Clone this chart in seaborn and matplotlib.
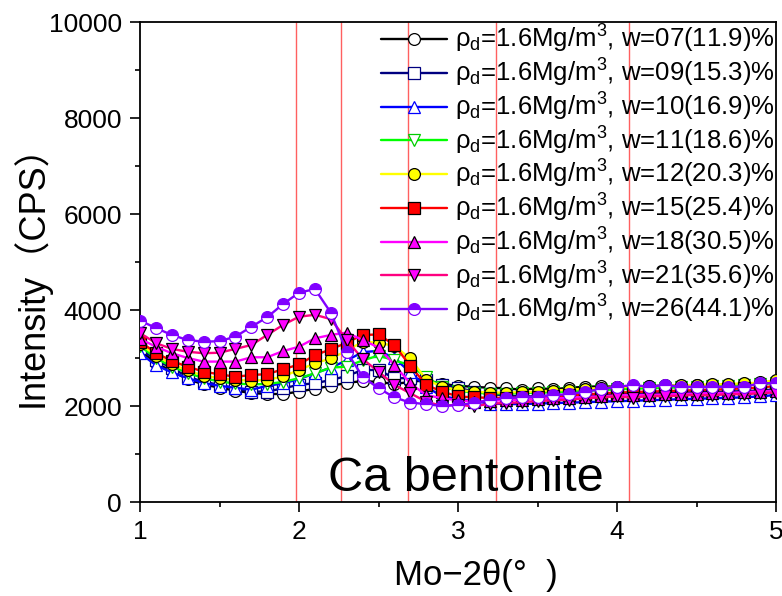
import numpy as np
import pandas as pd
import seaborn as sns
import matplotlib
matplotlib.use("Agg")
import matplotlib.pyplot as plt
from matplotlib import font_manager
from matplotlib.ticker import AutoMinorLocator

# ---------------- data ----------------
two_theta = [round(1.0 + 0.1 * i, 1) for i in range(41)]

w07 = [3150, 2900, 2720, 2560, 2450, 2380, 2320, 2270, 2250, 2250,
       2300, 2360, 2420, 2480, 2520, 2500, 2460, 2500, 2540, 2460,
       2420, 2400, 2380, 2370, 2340, 2370, 2350, 2380, 2400, 2410,
       2400, 2420, 2410, 2430, 2420, 2430, 2440, 2440, 2450, 2470, 2500]
w09 = [3200, 2960, 2790, 2610, 2505, 2440, 2370, 2300, 2300, 2370,
       2440, 2475, 2540, 2625, 2750, 2750, 2580, 2580, 2540, 2440,
       2380, 2300, 2250, 2220, 2200, 2200, 2210, 2220, 2230, 2240,
       2250, 2260, 2260, 2270, 2280, 2290, 2290, 2300, 2310, 2320, 2350]
w10 = [3100, 2850, 2700, 2580, 2480, 2420, 2380, 2340, 2420, 2470,
       2560, 2680, 2800, 2950, 3120, 3150, 3000, 2700, 2400, 2200,
       2150, 2100, 2050, 2040, 2040, 2050, 2060, 2070, 2080, 2090,
       2100, 2110, 2120, 2130, 2140, 2150, 2160, 2170, 2180, 2200, 2230]
w11 = [3250, 3000, 2820, 2690, 2580, 2510, 2470, 2450, 2460, 2500,
       2580, 2680, 2800, 2820, 2950, 3050, 2950, 2850, 2600, 2400,
       2320, 2280, 2260, 2260, 2270, 2280, 2290, 2300, 2320, 2330,
       2350, 2360, 2370, 2380, 2390, 2400, 2410, 2420, 2430, 2450, 2480]
w12 = [3300, 3050, 2870, 2740, 2630, 2580, 2540, 2530, 2540, 2620,
       2750, 2890, 2990, 3150, 3340, 3320, 3250, 2990, 2550, 2400,
       2330, 2300, 2280, 2280, 2290, 2300, 2320, 2340, 2360, 2370,
       2390, 2400, 2410, 2420, 2430, 2440, 2450, 2460, 2470, 2490, 2540]
w15 = [3340, 3110, 2935, 2820, 2715, 2660, 2610, 2645, 2665, 2765,
       2865, 3060, 3180, 3320, 3480, 3490, 3270, 2835, 2440, 2300,
       2200, 2180, 2170, 2170, 2180, 2190, 2200, 2220, 2240, 2260,
       2280, 2290, 2300, 2310, 2320, 2330, 2340, 2350, 2370, 2380, 2420]
w18 = [3400, 3235, 3100, 3000, 2925, 2925, 2925, 3015, 3015, 3145,
       3235, 3410, 3480, 3530, 3375, 3220, 2855, 2470, 2230, 2160,
       2120, 2090, 2110, 2120, 2130, 2150, 2160, 2170, 2190, 2200,
       2220, 2230, 2230, 2240, 2250, 2260, 2270, 2270, 2290, 2300, 2320]
w21 = [3520, 3310, 3190, 3130, 3100, 3110, 3190, 3270, 3480, 3690,
       3860, 3900, 3810, 3375, 2980, 2715, 2440, 2265, 2090, 2000,
       2030, 1990, 2050, 2060, 2080, 2100, 2120, 2130, 2160, 2180,
       2200, 2170, 2210, 2200, 2220, 2230, 2220, 2250, 2240, 2270, 2280]
w26 = [3780, 3625, 3480, 3375, 3340, 3350, 3445, 3650, 3850, 4125,
       4360, 4437, 3945, 3130, 2610, 2370, 2180, 2070, 2040, 2000,
       2020, 2060, 2125, 2165, 2180, 2195, 2230, 2245, 2300, 2350,
       2400, 2435, 2400, 2435, 2400, 2400, 2400, 2400, 2400, 2475, 2475]

series_values = [w07, w09, w10, w11, w12, w15, w18, w21, w26]
labels_w = ["07(11.9)", "09(15.3)", "10(16.9)", "11(18.6)", "12(20.3)",
            "15(25.4)", "18(30.5)", "21(35.6)", "26(44.1)"]
ref_lines = [1.98, 2.266, 2.685, 3.236, 4.073]

x_ticks = [1, 2, 3, 4, 5]
y_ticks = [0, 2000, 4000, 6000, 8000, 10000]

# ---------------- styles ----------------
styles = [
    dict(color="#000000", marker="o", markerfacecolor="white", markeredgecolor="black"),
    dict(color="#000080", marker="s", markerfacecolor="white", markeredgecolor="#000080"),
    dict(color="#0000FF", marker="^", markerfacecolor="white", markeredgecolor="#0000FF"),
    dict(color="#00FF00", marker="v", markerfacecolor="white", markeredgecolor="#00CC00"),
    dict(color="#FFFF00", marker="o", markerfacecolor="#FFFF00", markeredgecolor="black"),
    dict(color="#FF0000", marker="s", markerfacecolor="#FF0000", markeredgecolor="black"),
    dict(color="#FF00FF", marker="^", markerfacecolor="#FF00FF", markeredgecolor="black"),
    dict(color="#FF0080", marker="v", markerfacecolor="#FF00FF", markeredgecolor="black"),
    dict(color="#8000FF", marker="o", markerfacecolor="#8000FF", markeredgecolor="#8000FF",
         fillstyle="top", markerfacecoloralt="white"),
]

sns.set_style("ticks")


def has_font(name):
    try:
        font_manager.findfont(font_manager.FontProperties(family=name), fallback_to_default=False)
        return True
    except Exception:
        return False


narrow_ok = has_font("Liberation Sans Narrow")
narrow = "Liberation Sans Narrow" if narrow_ok else "Liberation Sans"
tick_fs = 22 if narrow_ok else 19
leg_fs = 19 if narrow_ok else 18.5

plt.rcParams["font.family"] = [narrow, "DejaVu Sans"]
plt.rcParams["mathtext.fontset"] = "custom"
plt.rcParams["mathtext.rm"] = narrow
plt.rcParams["mathtext.it"] = narrow
plt.rcParams["xtick.direction"] = "out"
plt.rcParams["ytick.direction"] = "out"
for k in ["text.color", "axes.labelcolor", "xtick.color", "ytick.color",
          "xtick.labelcolor", "ytick.labelcolor", "axes.edgecolor"]:
    plt.rcParams[k] = "black"

fig = plt.figure(figsize=(7.82, 5.96), dpi=100)
ax = fig.add_axes([140 / 782, 1 - 502 / 596, 636 / 782, 480 / 596])

for xv in ref_lines:
    ax.axvline(xv, color="#FF6060", lw=1.0, zorder=1)

for vals, lab, st in zip(series_values, labels_w, styles):
    df = pd.DataFrame({"x": two_theta, "y": vals})
    sns.lineplot(data=df, x="x", y="y", ax=ax, lw=1.7, markersize=8.5,
                 markeredgewidth=0.9, zorder=3, clip_on=True,
                 label="ρ$_\\mathregular{d}$=1.6Mg/m$^\\mathregular{3}$, w=" + lab + "%",
                 **st)

ax.set_xlim(1, 5)
ax.set_ylim(0, 10000)
ax.set_xticks(x_ticks)
ax.set_yticks(y_ticks)
ax.xaxis.set_minor_locator(AutoMinorLocator(2))
ax.yaxis.set_minor_locator(AutoMinorLocator(2))
ax.tick_params(which="major", length=7, width=1.2, labelsize=tick_fs, pad=6, color="black")
ax.tick_params(which="minor", length=3.5, width=1.2, color="black")
for sp in ax.spines.values():
    sp.set_linewidth(1.3)
    sp.set_color("black")

ax.set_xlabel("Mo−2θ(°  )", fontsize=25, family=[narrow, "DejaVu Sans"])
ax.set_ylabel("Intensity（CPS）", fontsize=26, family=["Liberation Sans", "Noto Sans CJK JP"])
ax.xaxis.set_label_coords(0.528, -0.118)
ax.yaxis.set_label_coords(-0.14, 0.49)

ax.text(0.513, 0.023, "Ca bentonite", transform=ax.transAxes, ha="center",
        va="baseline", fontsize=35, family="Liberation Sans", zorder=5)

leg = ax.legend(loc="upper right", bbox_to_anchor=(1.0, 1.0), frameon=False,
                fontsize=leg_fs, handlelength=2.6, handletextpad=0.3,
                labelspacing=0.06, borderaxespad=0.05, borderpad=0.0)
leg.set_zorder(6)

fig.savefig("out.png", dpi=100)
